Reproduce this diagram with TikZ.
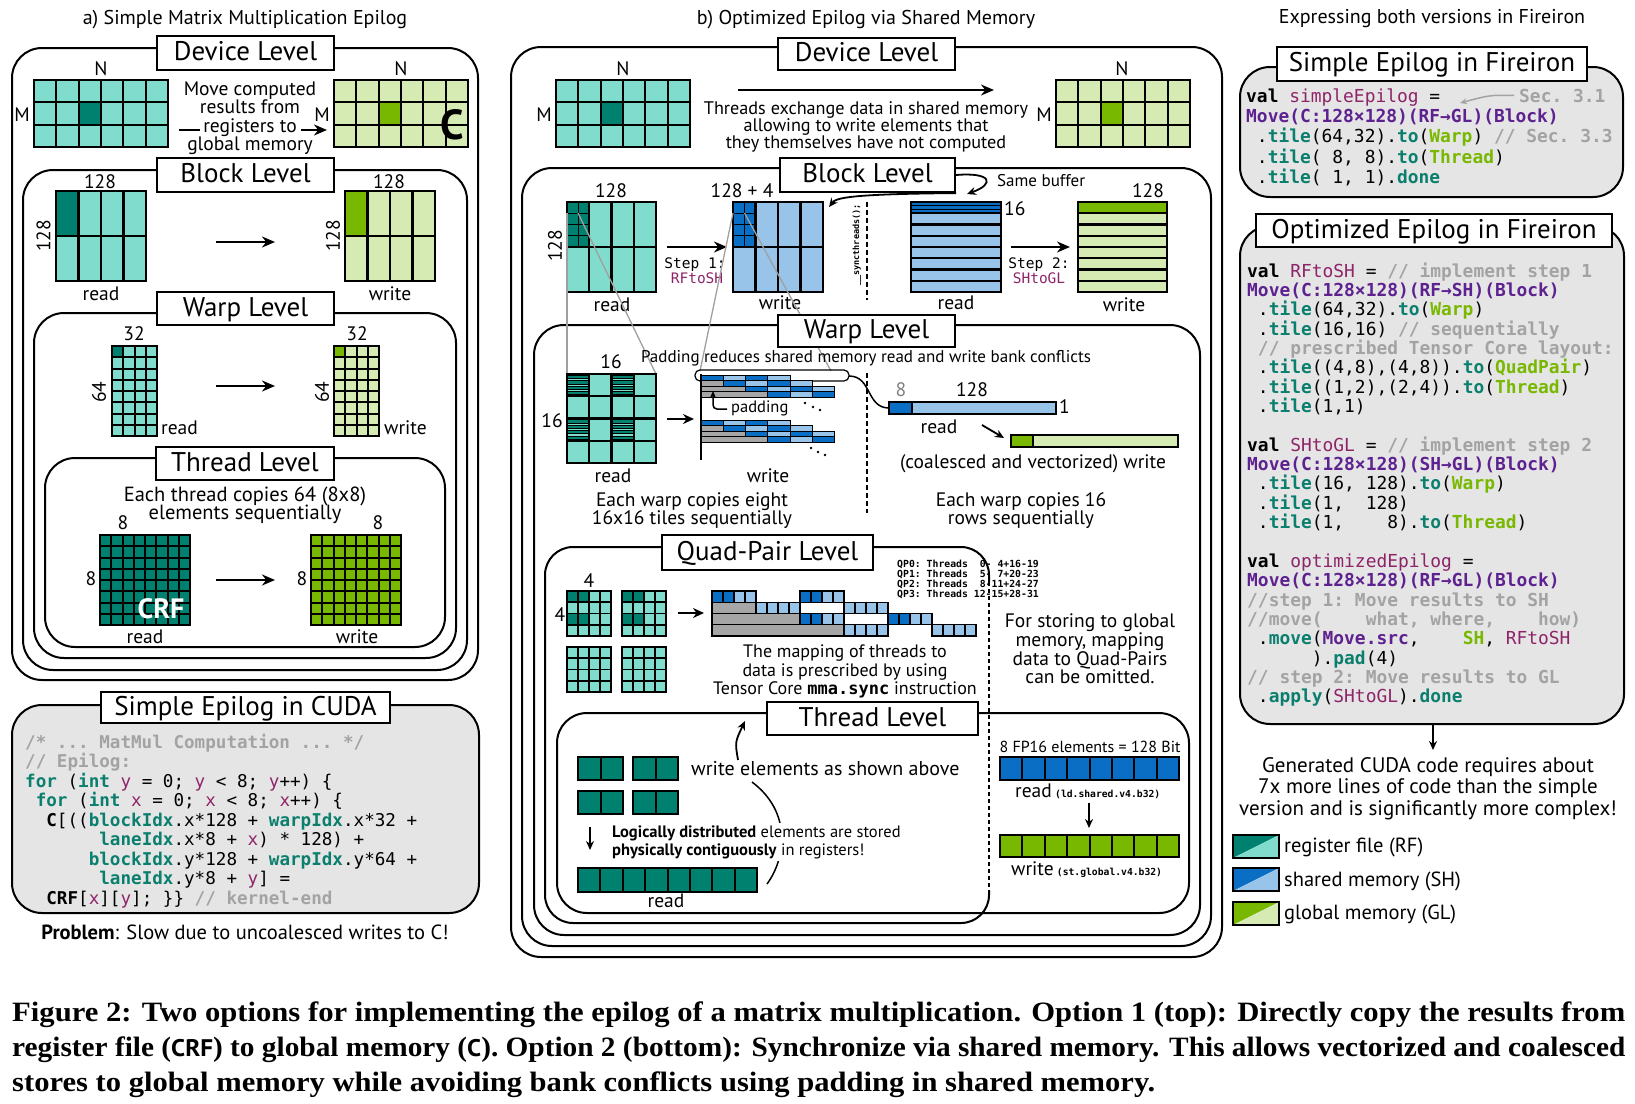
\documentclass[tikz,border=0pt]{standalone}
\usepackage{fontspec}
\usepackage{graphicx}
\setmainfont{PT Sans}
\setmonofont{DejaVu Sans Mono}
\newfontfamily\capfont{Liberation Serif}
\newfontfamily\capsans{PT Sans}
\usetikzlibrary{arrows.meta}
\definecolor{kw}{HTML}{0B7F6E}
\definecolor{var}{HTML}{8E2468}
\definecolor{mv}{HTML}{5E2190}
\definecolor{gr}{HTML}{78B800}
\definecolor{cm}{HTML}{A3A3A3}
\definecolor{codebg}{HTML}{E5E5E5}
\definecolor{rfD}{HTML}{00816F}
\definecolor{rfL}{HTML}{80DCCD}
\definecolor{shD}{HTML}{0A6FC4}
\definecolor{shL}{HTML}{97C4E8}
\definecolor{glD}{HTML}{78B800}
\definecolor{glL}{HTML}{D6EAB3}
\definecolor{padc}{HTML}{A6A6A6}
\definecolor{zoomc}{HTML}{A0A0A0}
\newcommand\fsz[1]{\fontsize{#1}{#1}\selectfont}
\newcommand\ckw[1]{\textcolor{kw}{\bfseries #1}}
\newcommand\cvar[1]{\textcolor{var}{#1}}
\newcommand\cmv[1]{\textcolor{mv}{\bfseries #1}}
\newcommand\cgr[1]{\textcolor{gr}{\bfseries #1}}
\newcommand\ccm[1]{\textcolor{cm}{\bfseries #1}}
\newcommand\cbf[1]{{\bfseries #1}}
\newcommand\CL[1]{\hbox{#1}}
\newcommand\codeblock[3]{\vtop{\ttfamily\fontsize{#1}{#2}\selectfont\lineskiplimit=-100pt\lineskip=0pt\frenchspacing #3}}
\newcounter{tn}
\newcommand\txtat[4][]{\stepcounter{tn}\node[t,anchor=base,#1] (t\arabic{tn}) at (#2,#3) {#4};}
\newcommand\mlines[7]{%
  \foreach \i in {0,...,#5}{\draw[line width=#7,line cap=rect] ({#1+\i*(#3)/(#5)},{#2}) -- ++(0,#4);}%
  \foreach \j in {0,...,#6}{\draw[line width=#7,line cap=rect] ({#1},{#2+\j*(#4)/(#6)}) -- ++(#3,0);}%
}
\begin{document}
\begin{tikzpicture}[x=1pt,y=-1pt,
  t/.style={inner sep=0pt,font=\fsz{19.5}},
  fr/.style={draw,line width=2pt,rounded corners=30pt},
  lbl/.style={draw,fill=white,line width=2.2pt,inner sep=0pt,font=\fsz{27},text height=19pt,text depth=4pt},
  arr/.style={line width=2.2pt,-{Stealth[length=13pt,width=11pt]}},
  sarr/.style={line width=1.8pt,-{Stealth[length=9pt,width=8pt]}},
  zl/.style={draw=zoomc,line width=1.3pt},
  dsh/.style={line width=1.8pt,dash pattern=on 5pt off 3pt}]
\useasboundingbox (0,0) rectangle (1635,1103);
\fill[white] (0,0) rectangle (1635,1103);

% ================= Panel a =================
\txtat{245}{24}{\fsz{20}a) Simple Matrix Multiplication Epilog}
\draw[fr] (12,48) rectangle (478,680);
\draw[fr] (23,170) rectangle (467,670);
\draw[fr] (34,313) rectangle (456,658);
\draw[fr] (45,458) rectangle (445,647);

% device
\fill[rfL] (34,80) rectangle ++(134,67);
\fill[rfD] (78.67,102.33) rectangle ++(22.33,22.33);
\mlines{34}{80}{134}{67}{6}{3}{2.2pt}
\fill[glL] (334,80) rectangle ++(134,67);
\fill[glD] (378.67,102.33) rectangle ++(22.33,22.33);
\mlines{334}{80}{134}{67}{6}{3}{2.2pt}
\txtat{101}{75}{N}
\txtat{401}{75}{N}
\txtat{22}{121}{M}
\txtat{322}{121}{M}
\txtat{452}{139}{\fsz{42}\bfseries C}
\txtat{250}{95}{Move computed}
\txtat{250}{113}{results from}
\txtat{250}{132}{registers to}
\txtat{250}{150}{global memory}
\draw[line width=2.2pt] (179,130) -- (200,130);
\draw[arr] (301,130) -- (327,130);

% block
\fill[rfL] (56,191) rectangle ++(90,90);
\fill[rfD] (56,191) rectangle ++(22.5,45);
\mlines{56}{191}{90}{90}{4}{2}{2.2pt}
\fill[glL] (345,191) rectangle ++(90,90);
\fill[glD] (345,191) rectangle ++(22.5,45);
\mlines{345}{191}{90}{90}{4}{2}{2.2pt}
\txtat{100}{188}{128}
\txtat{389}{188}{128}
\txtat[anchor=center,rotate=90]{43.5}{236}{128}
\txtat[anchor=center,rotate=90]{333}{236}{128}
\txtat{101}{300}{read}
\txtat{390}{300}{write}
\draw[arr] (216,242) -- (275,242);

% warp
\fill[rfL] (112,346) rectangle ++(45,90);
\fill[rfD] (112,346) rectangle ++(11.25,11.25);
\mlines{112}{346}{45}{90}{4}{8}{2pt}
\fill[glL] (334,346) rectangle ++(45,90);
\fill[glD] (334,346) rectangle ++(11.25,11.25);
\mlines{334}{346}{45}{90}{4}{8}{2pt}
\txtat{134}{340}{32}
\txtat{357}{340}{32}
\txtat[anchor=center,rotate=90]{99}{392}{64}
\txtat[anchor=center,rotate=90]{322}{392}{64}
\txtat[anchor=base west]{161}{434}{read}
\txtat[anchor=base west]{384}{434}{write}
\draw[arr] (216,386) -- (275,386);

% thread
\txtat{245}{501}{\fsz{20.5}Each thread copies 64 (8x8)}
\txtat{245}{519}{\fsz{20.5}elements sequentially}
\fill[rfD] (100,535) rectangle ++(90,90);
\mlines{100}{535}{90}{90}{8}{8}{2pt}
\fill[glD] (311,535) rectangle ++(90,90);
\mlines{311}{535}{90}{90}{8}{8}{2pt}
\txtat{123}{529}{8}
\txtat{378}{529}{8}
\txtat{91}{585}{8}
\txtat{302}{585}{8}
\txtat{161}{618}{\color{white}\bfseries\fsz{28}CRF}
\txtat{145}{643}{read}
\txtat{357}{643}{write}
\draw[arr] (216,580) -- (275,580);

\node[lbl,minimum width=177pt,minimum height=34pt] (aDev) at (245.5,53) {Device Level};
\node[lbl,minimum width=177pt,minimum height=34pt] (aBlk) at (245.5,175) {Block Level};
\node[lbl,minimum width=177pt,minimum height=33pt] (aWarp) at (245.5,308.5) {Warp Level};
\node[lbl,minimum width=178pt,minimum height=33pt] (aThr) at (245,463.5) {Thread Level};

% CUDA code
\draw[fr,fill=codebg] (12,705) rectangle (479,913);
\node[lbl,minimum width=289pt,minimum height=31pt] (cudaL) at (245.5,707.5) {Simple Epilog in CUDA};
\node[anchor=base west,inner sep=0pt] (cuda) at (25,748) {\codeblock{17.6}{19.5}{%
\CL{\ccm{/* ... MatMul Computation ... */}}
\CL{\ccm{// Epilog:}}
\CL{\ckw{for} (\ckw{int} \cvar{y} = 0; \cvar{y} < 8; \cvar{y}++) \{}
\CL{~\ckw{for} (\ckw{int} \cvar{x} = 0; \cvar{x} < 8; \cvar{x}++) \{}
\CL{~~\cbf{C}[((\ckw{blockIdx}.x*128 + \ckw{warpIdx}.x*32 +}
\CL{~~~~~~~\ckw{laneIdx}.x*8 + \cvar{x}) * 128) +}
\CL{~~~~~~\ckw{blockIdx}.y*128 + \ckw{warpIdx}.y*64 +}
\CL{~~~~~~~\ckw{laneIdx}.y*8 + \cvar{y}] =}
\CL{~~\cbf{CRF}[\cvar{x}][\cvar{y}]; \}\} \ccm{// kernel-end}}}};
\txtat{245}{939}{\fsz{20.5}\textbf{Problem}: Slow due to uncoalesced writes to C!}

% ================= Panel b =================
\txtat{866}{24}{\fsz{20}b) Optimized Epilog via Shared Memory}
\draw[fr] (511,47) rectangle (1222,957);
\draw[fr] (522,168) rectangle (1211,946);
\draw[fr] (534,325) rectangle (1200,935);
\draw[line width=2pt,rounded corners=28pt] (989,582) -- (989,547) -- (545,547) -- (545,923) -- (989,923) -- (989,890);
\draw[line width=2pt,dash pattern=on 4pt off 3pt] (989,582) -- (989,890);
\draw[fr] (557,713) rectangle (1189,913);

% device
\fill[rfL] (556,80) rectangle ++(134,67);
\fill[rfD] (600.67,102.33) rectangle ++(22.33,22.33);
\mlines{556}{80}{134}{67}{6}{3}{2.2pt}
\fill[glL] (1056,80) rectangle ++(134,67);
\fill[glD] (1100.67,102.33) rectangle ++(22.33,22.33);
\mlines{1056}{80}{134}{67}{6}{3}{2.2pt}
\txtat{623}{75}{N}
\txtat{1122}{75}{N}
\txtat{544}{121}{M}
\txtat{1044}{121}{M}
\draw[arr] (738,90) -- (994,90);
\txtat{866}{114}{\fsz{18.2}Threads exchange data in shared memory}
\txtat{866}{131}{\fsz{18.2}allowing to write elements that}
\txtat{866}{148}{\fsz{18.2}they themselves have not computed}

% block
\fill[rfL] (567,202) rectangle ++(89,90);
\fill[rfD] (567,202) rectangle ++(22.25,45);
\mlines{567}{202}{22.25}{45}{2}{4}{1.2pt}
\mlines{567}{202}{89}{90}{4}{2}{2.2pt}
\fill[shL] (733,202) rectangle ++(90,90);
\fill[shD] (733,202) rectangle ++(22.5,45);
\mlines{733}{202}{22.5}{45}{2}{4}{1.2pt}
\mlines{733}{202}{90}{90}{4}{2}{2.2pt}
\fill[shL] (911,202) rectangle ++(90,90);
\fill[shD] (911,202) rectangle ++(90,11.25);
\draw[line width=0.8pt] (911,205.7) -- ++(90,0);
\draw[line width=0.8pt] (911,209.4) -- ++(90,0);
\mlines{911}{202}{90}{90}{1}{8}{2.2pt}
\fill[glL] (1078,202) rectangle ++(89,90);
\fill[glD] (1078,202) rectangle ++(89,11.25);
\mlines{1078}{202}{89}{90}{1}{8}{2.2pt}
\txtat{611}{197}{128}
\txtat{742}{197}{128 + 4}
\txtat[anchor=base west]{1004}{215}{16}
\txtat{1148}{197}{128}
\txtat[anchor=center,rotate=90]{555}{246}{128}
\txtat{612}{311}{read}
\txtat{780}{309}{write}
\txtat{956}{309}{read}
\txtat{1124}{311}{write}
\draw[arr] (667,247) -- (727,247);
\txtat{695}{268}{\ttfamily\fsz{14.5}Step 1:}
\txtat{697}{283}{\ttfamily\fsz{14.5}\textcolor{var}{RFtoSH}}
\draw[arr] (1011,247) -- (1070,247);
\txtat{1039}{268}{\ttfamily\fsz{14.5}Step 2:}
\txtat{1039}{283}{\ttfamily\fsz{14.5}\textcolor{var}{SHtoGL}}
\draw[dsh] (867,202) -- (867,300);
\node[rotate=90,inner sep=0pt,font=\ttfamily\bfseries\fsz{8.5}] (sync) at (857,245) {\_\_syncthreads();};
\txtat[anchor=base west]{997}{186}{\fsz{17}Same buffer}

% zoom lines
\draw[zl] (567,213) -- (567,374);
\draw[zl] (578,213) -- (656,374);
\draw[zl] (733,213) -- (700,371);
\draw[zl] (744.5,213) -- (831,371);

% warp
\txtat{866}{362}{\fsz{17}Padding reduces shared memory read and write bank conflicts}
\fill[rfL] (567,374) rectangle ++(89,89);
\foreach \cx/\cy in {0/0,2/0,0/2,2/2}{
  \foreach \k in {0,...,3}{
    \filldraw[fill=rfD,line width=0.7pt] ({567+\cx*22.25},{374+\cy*22.25+1.3+\k*5.4}) rectangle ++(22.25,3.2);}}
\mlines{567}{374}{89}{89}{4}{4}{2.2pt}
\txtat{611}{368}{16}
\txtat{552}{427}{16}
\txtat{613}{482}{read}
\draw[line width=2.2pt,-{Stealth[length=11pt,width=10pt]}] (667,419) -- (694,419);
\draw[line width=1.2pt,rounded corners=5pt] (695,370) rectangle (849,381);
\foreach \gy in {375,420}{
  \foreach \rw/\nc in {0/3,1/3,2/3,3/2}{
    \ifnum\rw>0 \filldraw[fill=padc,line width=1pt] (701,{\gy+\rw*5.5}) rectangle ++({\rw*22.3},5.5);\fi
    \foreach \ci in {0,...,\nc}{
      \ifodd\ci \def\ccol{shL}\else\def\ccol{shD}\fi
      \filldraw[fill=\ccol,line width=1pt] ({701+(\rw+\ci)*22.3},{\gy+\rw*5.5}) rectangle ++(22.3,5.5);
    }
  }
}
\draw[line width=1.5pt] (701,374) -- (701,460);
\draw[line width=1.5pt,-{Stealth[length=7pt,width=6pt]},rounded corners=4pt] (727,409) -- (713,409) -- (713,391);
\txtat[anchor=base west]{731}{412}{\fsz{16.5}padding}
\foreach \p in {(805,403),(813,407),(820,410),(811,448),(818,452),(825,455)} \fill \p circle (1.4);
\txtat{768}{482}{write}
\draw[line width=1.5pt] (849,376) .. controls (872,376) and (866,408) .. (889,408);
\txtat{901}{396}{\textcolor{gray}{8}}
\txtat{972}{396}{128}
\filldraw[fill=shL,line width=2pt] (889,402) rectangle (1056,414);
\filldraw[fill=shD,line width=2pt] (889,402) rectangle (912,414);
\txtat[anchor=base west]{1059}{413}{1}
\txtat{939}{433}{read}
\draw[sarr] (982,425) -- (1004,438);
\filldraw[fill=glL,line width=2pt] (1011,435) rectangle (1178,447);
\filldraw[fill=glD,line width=2pt] (1011,435) rectangle (1033,447);
\txtat{1033}{468}{(coalesced and vectorized) write}
\draw[dsh] (867,373) -- (867,513);
\txtat{692}{506}{Each warp copies eight}
\txtat{692}{524}{16x16 tiles sequentially}
\txtat{1021}{506}{Each warp copies 16}
\txtat{1021}{524}{rows sequentially}

% quad pair
\foreach \qx/\qy/\dk in {567/591/1,622/591/1,567/647/0,622/647/0}{
  \fill[rfL] (\qx,\qy) rectangle ++(44,45);
  \ifnum\dk=1
    \fill[rfD] (\qx,\qy) rectangle ++(22,11.25);
    \fill[rfD] (\qx,{\qy+22.5}) rectangle ++(22,11.25);
  \fi
  \mlines{\qx}{\qy}{44}{45}{4}{4}{1.8pt}
}
\txtat{589}{587}{4}
\txtat{560}{621}{4}
\draw[line width=2.2pt,-{Stealth[length=11pt,width=10pt]}] (678,613) -- (704,613);
\foreach \rw/\gn/\dk in {0/0/1,1/1/0,2/2/1,3/3/0}{
  \ifnum\gn>0 \filldraw[fill=padc,line width=1.2pt] (712,{591+\rw*11.25}) rectangle ++({\gn*44},11.25);\fi
  \foreach \gx in {0,2}{
    \foreach \ci in {0,1,2,3}{
      \ifnum\dk=1 \ifnum\ci<2 \def\ccol{shD}\else\def\ccol{shL}\fi\else\def\ccol{shL}\fi
      \filldraw[fill=\ccol,line width=1.2pt] ({712+(\gn+\gx)*44+\ci*11},{591+\rw*11.25}) rectangle ++(11,11.25);
    }
  }
}
\node[anchor=base west,inner sep=0pt] (qptxt) at (897,567) {\codeblock{9.8}{10.3}{\bfseries
\CL{QP0: Threads~~0-~4+16-19}
\CL{QP1: Threads~~5-~7+20-23}
\CL{QP2: Threads~~8-11+24-27}
\CL{QP3: Threads 12-15+28-31}}};
\txtat{845}{657}{\fsz{18}The mapping of threads to}
\txtat{845}{676}{\fsz{18}data is prescribed by using}
\txtat{845}{694}{\fsz{18}Tensor Core {\ttfamily\bfseries\fsz{17}mma.sync} instruction}
\txtat{1090}{627}{For storing to global}
\txtat{1090}{646}{memory, mapping}
\txtat{1090}{665}{data to Quad-Pairs}
\txtat{1090}{683}{can be omitted.}

% thread level (b)
\foreach \px/\py in {578/757,633/757,578/791,633/791}{
  \filldraw[fill=rfD,line width=2pt] (\px,\py) rectangle ++(45,22.5);
  \draw[line width=2pt] ({\px+22.5},\py) -- ++(0,22.5);
}
\draw[sarr] (738,760) .. controls (735,742) .. (745,721);
\txtat[anchor=base west]{691}{775}{\fsz{20}write elements as shown above}
\draw[line width=1.5pt] (752,782) .. controls (792,812) and (786,858) .. (767,884);
\draw[sarr] (590,827) -- (590,850);
\txtat[anchor=base west,fill=white,inner ysep=2pt]{612}{837}{\fsz{16.5}\textbf{Logically distributed} elements are stored}
\txtat[anchor=base west,fill=white,inner ysep=2pt]{612}{855}{\fsz{16.5}\textbf{physically contiguously} in registers!}
\fill[rfD] (578,868) rectangle (757,892);
\mlines{578}{868}{179}{24}{8}{1}{2pt}
\txtat{666}{907}{read}
\txtat{1090}{752}{\fsz{16}8 FP16 elements = 128 Bit}
\fill[shD] (1000,757) rectangle (1179,780);
\mlines{1000}{757}{179}{23}{8}{1}{2pt}
\txtat[anchor=base west]{1015}{797}{read\,{\ttfamily\bfseries\fsz{9.7}(ld.shared.v4.b32)}}
\draw[sarr] (1089,803) -- (1089,828);
\fill[glD] (1000,835) rectangle (1179,857);
\mlines{1000}{835}{179}{22}{8}{1}{2pt}
\txtat[anchor=base west]{1011}{875}{write\,{\ttfamily\bfseries\fsz{9.7}(st.global.v4.b32)}}

\node[lbl,minimum width=177pt,minimum height=32pt] (bDev) at (866.5,54) {Device Level};
\node[lbl,minimum width=175pt,minimum height=34pt] (bBlk) at (867.5,175) {Block Level};
\node[lbl,minimum width=177pt,minimum height=32pt] (bWarp) at (866.5,331) {Warp Level};
\node[lbl,minimum width=211pt,minimum height=35pt] (bQP) at (767.5,552.5) {Quad-Pair Level};
\node[lbl,minimum width=211pt,minimum height=33pt] (bThr) at (872.5,718.5) {Thread Level};
\draw[sarr] (bBlk.east) .. controls (992,172) and (995,184) .. (967,194);
\draw[sarr] (bBlk.south east) .. controls (848,194) and (836,198) .. (829,207);

% ================= Fireiron =================
\txtat{1432}{23}{\fsz{20}Expressing both versions in Fireiron}
\draw[fr,fill=codebg] (1240,67) rectangle (1623,197);
\node[lbl,minimum width=310pt,minimum height=34pt] (fS) at (1432,64) {Simple Epilog in Fireiron};
\node[anchor=base west,inner sep=0pt] (fScode) at (1246,102) {\codeblock{17.9}{20.4}{%
\CL{\cbf{val} \cvar{simpleEpilog} =}
\CL{\cmv{Move(C:128×128)(RF→GL)(Block)}}
\CL{~.\ckw{tile}(64,32).\ckw{to}(\cgr{Warp}) \ccm{// Sec. 3.3}}
\CL{~.\ckw{tile}( 8, 8).\ckw{to}(\cgr{Thread})}
\CL{~.\ckw{tile}( 1, 1).\ckw{done}}}};
\node[anchor=base west,inner sep=0pt,font=\ttfamily\bfseries\fsz{17.9},text=cm] (sec) at (1519,102) {Sec. 3.1};
\draw[draw=cm,line width=1.5pt,-{Stealth[length=7pt,width=6pt]}] ([xshift=-5pt]sec.west) .. controls (1490,95) .. (1460,103);

\draw[fr,fill=codebg] (1240,226) rectangle (1624,724);
\node[lbl,minimum width=356pt,minimum height=33pt] (fO) at (1434,230.5) {Optimized Epilog in Fireiron};
\node[anchor=base west,inner sep=0pt] (fOcode) at (1247,277) {\codeblock{17.9}{19.36}{%
\CL{\cbf{val} \cvar{RFtoSH} = \ccm{// implement step 1}}
\CL{\cmv{Move(C:128×128)(RF→SH)(Block)}}
\CL{~.\ckw{tile}(64,32).\ckw{to}(\cgr{Warp})}
\CL{~.\ckw{tile}(16,16) \ccm{// sequentially}}
\CL{~\ccm{// prescribed Tensor Core layout:}}
\CL{~.\ckw{tile}((4,8),(4,8)).\ckw{to}(\cgr{QuadPair})}
\CL{~.\ckw{tile}((1,2),(2,4)).\ckw{to}(\cgr{Thread})}
\CL{~.\ckw{tile}(1,1)}
\CL{~}
\CL{\cbf{val} \cvar{SHtoGL} = \ccm{// implement step 2}}
\CL{\cmv{Move(C:128×128)(SH→GL)(Block)}}
\CL{~.\ckw{tile}(16, 128).\ckw{to}(\cgr{Warp})}
\CL{~.\ckw{tile}(1,~~128)}
\CL{~.\ckw{tile}(1,~~~~8).\ckw{to}(\cgr{Thread})}
\CL{~}
\CL{\cbf{val} \cvar{optimizedEpilog} =}
\CL{\cmv{Move(C:128×128)(RF→GL)(Block)}}
\CL{\ccm{//step 1: Move results to SH}}
\CL{\ccm{//move(~~~~what, where,~~~~how)}}
\CL{~.\ckw{move}(\cmv{Move.src},~~~~\cgr{SH}, \cvar{RFtoSH}}
\CL{~~~~~~).\ckw{pad}(4)}
\CL{\ccm{// step 2: Move results to GL}}
\CL{~.\ckw{apply}(\cvar{SHtoGL}).\ckw{done}}}};
\coordinate (fObot) at (1433,724);
\coordinate (genTop) at (1433,750);
\draw[sarr] (fObot) -- (genTop);
\txtat{1428}{772}{\fsz{21}Generated CUDA code requires about}
\txtat{1428}{793}{\fsz{21}7x more lines of code than the simple}
\txtat{1428}{815}{\fsz{21}version and is significantly more complex!}

% legend
\fill[rfD] (1233,835) -- (1279,835) -- (1233,858) -- cycle;
\fill[rfL] (1279,835) -- (1279,858) -- (1233,858) -- cycle;
\draw[line width=2.5pt] (1233,835) rectangle (1279,858);
\txtat[anchor=base west]{1284}{852}{\fsz{20.5}register file (RF)}
\fill[shD] (1233,868) -- (1279,868) -- (1233,891) -- cycle;
\fill[shL] (1279,868) -- (1279,891) -- (1233,891) -- cycle;
\draw[line width=2.5pt] (1233,868) rectangle (1279,891);
\txtat[anchor=base west]{1284}{886}{\fsz{20.5}shared memory (SH)}
\fill[glD] (1233,902) -- (1279,902) -- (1233,925) -- cycle;
\fill[glL] (1279,902) -- (1279,925) -- (1233,925) -- cycle;
\draw[line width=2.5pt] (1233,902) rectangle (1279,925);
\txtat[anchor=base west]{1284}{919}{\fsz{20.5}global memory (GL)}

% ================= Caption =================
\node[anchor=base west,inner sep=0pt] (cap1) at (12,1021) {\resizebox{1613pt}{\height}{\capfont\bfseries\fsz{28}Figure 2: Two options for implementing the epilog of a matrix multiplication. Option 1 (top): Directly copy the results from}};
\node[anchor=base west,inner sep=0pt] (cap2) at (12,1056) {\resizebox{1613pt}{\height}{\capfont\bfseries\fsz{28}register file ({\capsans\bfseries\fsz{24}CRF}) to global memory ({\capsans\bfseries\fsz{24}C}). Option 2 (bottom): Synchronize via shared memory. This allows vectorized and coalesced}};
\node[anchor=base west,inner sep=0pt] (cap3) at (12,1091) {\resizebox{1143pt}{\height}{\capfont\bfseries\fsz{28}stores to global memory while avoiding bank conflicts using padding in shared memory.}};
\end{tikzpicture}
\end{document}
